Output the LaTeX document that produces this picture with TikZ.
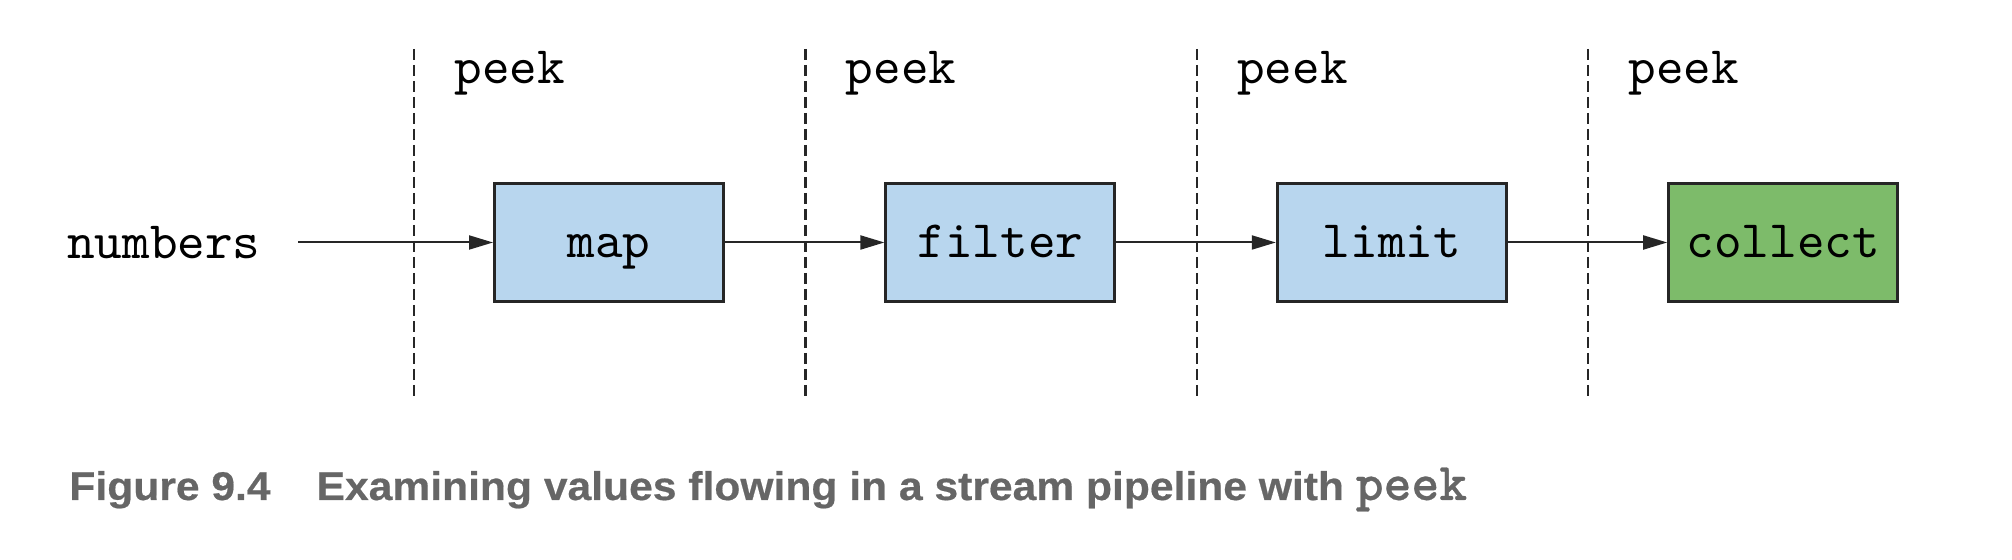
\documentclass[tikz,border=0pt]{standalone}
\usepackage{fontspec}
\setmonofont{lmmono10-regular.otf}
\newfontfamily\capfont[FakeStretch=1.065,FakeBold=0.5]{Liberation Sans}
\newfontfamily\capcode[FakeBold=0.5]{lmmonolt10-bold.otf}
\usetikzlibrary{positioning,arrows.meta}

\definecolor{stageblue}{HTML}{B8D6EE}
\definecolor{stagegreen}{HTML}{7DBB6A}
\definecolor{capgrey}{HTML}{666666}
\newcommand\pipefont{\ttfamily\fontsize{26.3}{30}\selectfont}

\tikzset{
	stage/.style={draw=black!85, line width=1.5pt, fill=stageblue,
		minimum width=114.5pt, minimum height=59pt, inner sep=0pt,
		text height=17pt, text depth=2pt, font=\pipefont},
	flow/.style={draw=black!85, line width=1pt, -{Triangle[length=12pt,width=7pt]}},
	peekline/.style={draw=black!85, line width=1.1pt, dash pattern=on 5.5pt off 2.5pt},
	peeklabel/.style={anchor=base west, inner sep=0pt, font=\pipefont}
}

\begin{document}
\begin{tikzpicture}[x=1pt,y=1pt,node distance=79.7pt]
	\useasboundingbox (0,0) rectangle (1006,280);
	
	\node[stage] (map) at (304.5,158.75) {map};
	\node[stage, right=of map] (filter) {filter};
	\node[stage, right=of filter] (limit) {limit};
	\node[stage, right=of limit, fill=stagegreen] (collect) {collect};
	\node[anchor=east, inner xsep=18.5pt, inner ysep=0pt, font=\pipefont]
		(numbers) at ([xshift=-97.5pt]map.west) {numbers};
	
	\draw[flow] (numbers) -- (map);
	\draw[flow] (map) -- (filter);
	\draw[flow] (filter) -- (limit);
	\draw[flow] (limit) -- (collect);
	
	% one peek between every two stages
	\foreach \s/\n in {map/a,filter/b,limit/c,collect/d}{
		\coordinate[xshift=-39.5pt,yshift=96.75pt] (top\n) at (\s.west);
		\coordinate[yshift=-175.5pt] (bot\n) at (top\n);
		\draw[peekline] (top\n) -- (bot\n);
		\node[peeklabel] (peek\n) at ([xshift=20pt,yshift=-17.2pt]top\n) {peek};
	}
	
	\node[anchor=base west, inner sep=0pt, text=capgrey, font=\capfont\bfseries\fontsize{20}{24}\selectfont]
		(caption) at (34.5,30) {Figure 9.4\hspace{23pt}Examining values flowing in a stream pipeline with {\capcode\fontsize{26.5}{30}\selectfont peek}};
\end{tikzpicture}
\end{document}
